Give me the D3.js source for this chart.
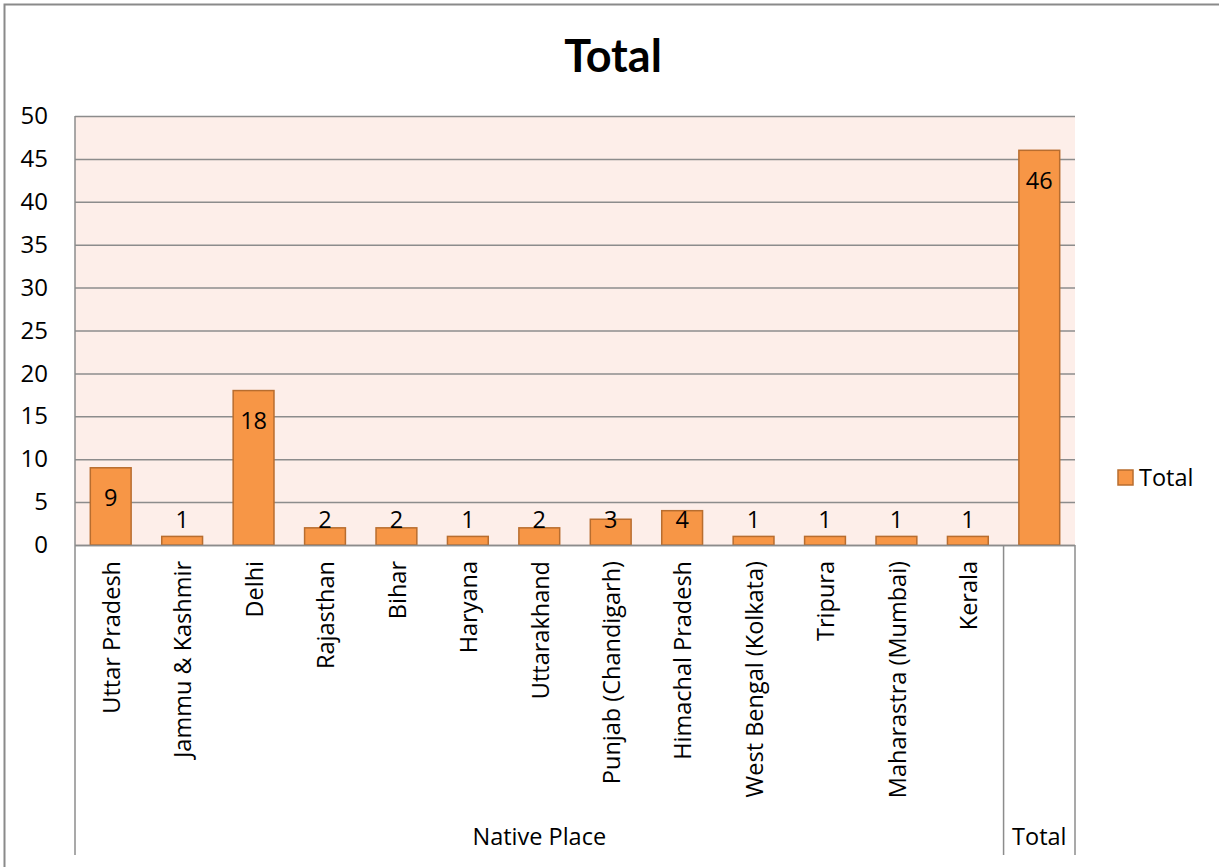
<!DOCTYPE html>
<html>
<head>
<meta charset="utf-8">
<script src="https://cdn.jsdelivr.net/npm/d3@7"></script>
<style>
  body { margin: 0; background: #fff; }
  svg { display: block; font-family: "Open Sans", "Noto Sans", sans-serif; }
</style>
</head>
<body>
<svg id="chart" width="1219" height="867"></svg>
<script>
// Respondents by native place
const categories = ["Uttar Pradesh", "Jammu & Kashmir", "Delhi", "Rajasthan", "Bihar", "Haryana",
  "Uttarakhand", "Punjab (Chandigarh)", "Himachal Pradesh", "West Bengal (Kolkata)", "Tripura",
  "Maharastra (Mumbai)", "Kerala", "Total"];
const values = [9, 1, 18, 2, 2, 1, 2, 3, 4, 1, 1, 1, 1, 46];
const groups = [
  { label: "Native Place", from: 0, to: 12 },
  { label: "Total", from: 13, to: 13 }
];
const yTicks = [0, 5, 10, 15, 20, 25, 30, 35, 40, 45, 50];
const seriesName = "Total";

(function draw() {
  const svg = d3.select("#chart");
  const plotL = 75, plotR = 1075, plotT = 116, plotB = 545, axisEnd = 855;
  const fs = 23.5;

  // outer chart frame
  svg.append("rect").attr("x", 4.5).attr("y", 4.5).attr("width", 1240).attr("height", 900)
    .attr("fill", "none").attr("stroke", "#8a8a8a").attr("stroke-width", 2);

  const x = d3.scaleBand().domain(categories).range([plotL, plotR])
    .paddingInner(0.75 / 1.75).paddingOuter(0.75 / 3.5);
  const band = d3.scaleBand().domain(categories).range([plotL, plotR]);
  const y = d3.scaleLinear().domain([0, 50]).range([plotB, plotT]);

  // plot background
  svg.append("rect").attr("x", plotL).attr("y", plotT).attr("width", plotR - plotL).attr("height", plotB - plotT)
    .attr("fill", "#fdeee9");

  // gridlines
  svg.append("g").selectAll("line").data(yTicks).join("line")
    .attr("x1", plotL).attr("x2", plotR)
    .attr("y1", d => y(d) + 0.5).attr("y2", d => y(d) + 0.5)
    .attr("stroke", "#8c8c8c").attr("stroke-width", 1.5);

  // y axis labels
  const yAxis = d3.axisLeft(y).tickValues(yTicks).tickSize(0).tickPadding(0);
  const ya = svg.append("g").attr("transform", "translate(48,0)").call(yAxis);
  ya.select(".domain").remove();
  ya.selectAll("text").attr("font-size", 24).attr("fill", "#000")
    .attr("font-family", "'Open Sans', sans-serif");

  // plot left border
  svg.append("line").attr("x1", plotL).attr("x2", plotL).attr("y1", plotT).attr("y2", axisEnd)
    .attr("stroke", "#8c8c8c").attr("stroke-width", 1.5);

  // bars
  svg.append("g").selectAll("rect").data(values).join("rect")
    .attr("x", (d, i) => x(categories[i]))
    .attr("y", d => y(d))
    .attr("width", x.bandwidth())
    .attr("height", d => y(0) - y(d))
    .attr("fill", "#f79646").attr("stroke", "#b86d2f").attr("stroke-width", 1.5);

  // value labels
  svg.append("g").selectAll("text").data(values).join("text")
    .attr("x", (d, i) => x(categories[i]) + x.bandwidth() / 2)
    .attr("y", d => Math.min(y(d) + 30, y(0) - 25))
    .attr("dy", "0.35em")
    .attr("text-anchor", "middle")
    .attr("font-size", fs).attr("fill", "#000")
    .text(d => d);

  // category axis baseline
  svg.append("line").attr("x1", plotL).attr("x2", plotR).attr("y1", plotB + 0.5).attr("y2", plotB + 0.5)
    .attr("stroke", "#8c8c8c").attr("stroke-width", 1.5);

  // group separators
  [groups[0].to + 1, categories.length].forEach(i => {
    const sx = i < categories.length ? band(categories[i]) : plotR;
    svg.append("line").attr("x1", sx).attr("x2", sx).attr("y1", plotB).attr("y2", axisEnd)
      .attr("stroke", "#8c8c8c").attr("stroke-width", 1.5);
  });

  // category labels (rotated)
  svg.append("g").selectAll("text").data(categories.slice(0, groups[0].to + 1)).join("text")
    .attr("transform", d => `translate(${band(d) + band.bandwidth() / 2 + 1},561) rotate(-90)`)
    .attr("text-anchor", "end").attr("dy", "0.35em")
    .attr("font-size", fs).attr("fill", "#000")
    .text(d => d);

  // group labels
  svg.append("g").selectAll("text").data(groups).join("text")
    .attr("x", g => {
      const a = band(categories[g.from]);
      const b = band(categories[g.to]) + band.bandwidth();
      return (a + b) / 2;
    })
    .attr("y", 837).attr("dy", "0.35em")
    .attr("text-anchor", "middle").attr("font-size", fs).attr("fill", "#000")
    .text(g => g.label);

  // title
  svg.append("text").attr("x", 613).attr("y", 56).attr("dy", "0.35em")
    .attr("text-anchor", "middle").attr("font-size", 45).attr("font-weight", "bold").attr("fill", "#000")
    .attr("font-family", "Lato, 'Open Sans', sans-serif")
    .text("Total");

  // legend
  const lg = svg.append("g").attr("transform", "translate(1118,470)");
  lg.append("rect").attr("width", 15).attr("height", 15)
    .attr("fill", "#f79646").attr("stroke", "#b86d2f").attr("stroke-width", 1.5);
  lg.append("text").attr("x", 21).attr("y", 7.5).attr("dy", "0.35em")
    .attr("font-size", 23.5).attr("fill", "#000").text(seriesName);
})();
</script>
</body>
</html>
